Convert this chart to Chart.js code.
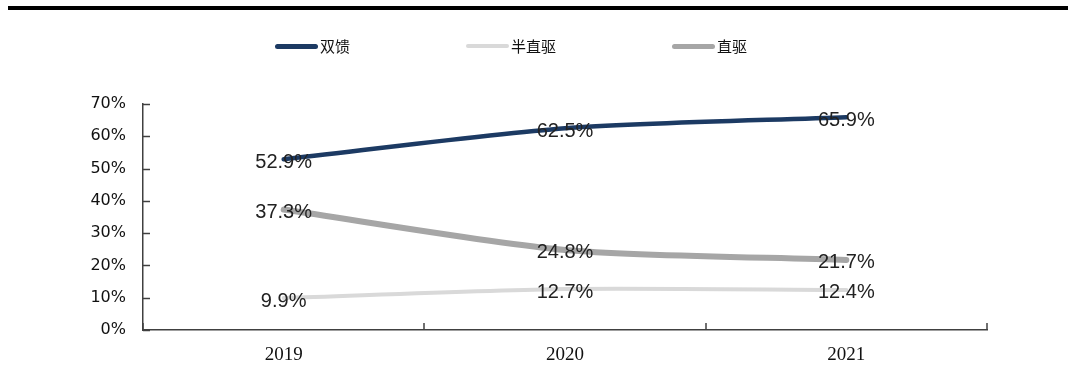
<!DOCTYPE html>
<html>
<head>
<meta charset="utf-8">
<script src="https://cdn.jsdelivr.net/npm/chart.js@4/dist/chart.umd.min.js"></script>
<style>
  html, body { margin: 0; padding: 0; background: #fff; }
  #wrap { position: relative; width: 1074px; height: 381px; }
  #topline { position: absolute; left: 8px; top: 6px; width: 1060px; height: 4px; background: #000; }
  #legend { position: absolute; top: 35px; left: 0; width: 1074px; height: 22px; }
  .item { position: absolute; top: 0; height: 22px; font: 15px "Noto Sans CJK SC", sans-serif; color: #111; line-height: 22px; }
  .item span.swatch { position: absolute; top: 9px; left: 0; width: 43px; border-radius: 3px; }
  .item span.txt { position: absolute; left: 45px; white-space: nowrap; }
  canvas { position: absolute; left: 0; top: 0; }
</style>
</head>
<body>
<div id="wrap">
  <canvas id="chart" width="1074" height="381"></canvas>
  <div id="topline"></div>
  <div id="legend"></div>
</div>
<script>
// categories / series
const years = ["2019", "2020", "2021"];
const seriesNames = ["双馈", "半直驱", "直驱"];
const doubleFed = [52.9, 62.5, 65.9];
const semiDirect = [9.9, 12.7, 12.4];
const directDrive = [37.3, 24.8, 21.7];
const yTicks = [0, 10, 20, 30, 40, 50, 60, 70];

const colors = ["#1c3a63", "#d9d9d9", "#a6a6a6"];
const widths = [4.5, 4, 6];
const legendX = [275, 466, 672];

var canvasElement = document.getElementById("chart");

// little inward tick marks + value labels
const extrasPlugin = {
  id: "extras",
  afterDatasetsDraw(chart) {
    const ctx = chart.ctx;
    const x = chart.scales.x, y = chart.scales.y;
    ctx.save();
    ctx.strokeStyle = "#404040";
    ctx.lineWidth = 1.5;
    y.ticks.forEach(function (t, i) {
      const py = Math.round(y.getPixelForTick(i)) + 0.5;
      ctx.beginPath();
      ctx.moveTo(x.left, py);
      ctx.lineTo(x.left + 7, py);
      ctx.stroke();
    });
    for (let i = 0; i <= years.length; i++) {
      const px = Math.round(x.getPixelForValue(i - 0.5));
      ctx.beginPath();
      ctx.moveTo(px, y.bottom);
      ctx.lineTo(px, y.bottom - 7);
      ctx.stroke();
    }
    ctx.font = "20px 'Liberation Sans', Arial, sans-serif";
    ctx.fillStyle = "#222";
    ctx.textAlign = "center";
    ctx.textBaseline = "middle";
    chart.data.datasets.forEach(function (ds, di) {
      chart.getDatasetMeta(di).data.forEach(function (pt, i) {
        ctx.fillText(ds.data[i].toFixed(1) + "%", pt.x, pt.y + 3);
      });
    });
    ctx.restore();
  }
};

var config = {
  type: "line",
  data: {
    labels: years,
    datasets: [doubleFed, semiDirect, directDrive].map(function (d, i) {
      return {
        label: seriesNames[i],
        data: d,
        borderColor: colors[i],
        backgroundColor: colors[i],
        borderWidth: widths[i],
        pointRadius: 0,
        tension: 0.25,
        borderCapStyle: "round",
        fill: false
      };
    }).reverse()
  },
  options: {
    responsive: false,
    animation: false,
    events: [],
    layout: { padding: { left: 43, right: 87, top: 104, bottom: 0 } },
    plugins: { legend: { display: false }, tooltip: { enabled: false } },
    scales: {
      x: {
        offset: true,
        grid: { display: false, drawTicks: false },
        border: { display: true, color: "#404040", width: 1.5 },
        ticks: { padding: 14, color: "#111", font: { family: "'Liberation Serif', 'Times New Roman', serif", size: 19 } },
        afterFit: function (s) { s.height = 51; }
      },
      y: {
        min: 0,
        max: 70,
        afterBuildTicks: function (s) { s.ticks = yTicks.map(function (v) { return { value: v }; }); },
        grid: { display: false, drawTicks: false },
        border: { display: true, color: "#404040", width: 1.5 },
        ticks: {
          padding: 17,
          color: "#111",
          font: { family: "'DejaVu Sans', sans-serif", size: 16 },
          callback: function (v) { return v + "%"; }
        },
        afterFit: function (s) { s.width = 100; }
      }
    }
  },
  plugins: [extrasPlugin]
};
var lineChart = new Chart(canvasElement, config);

// legend built from the same series
const legendEl = document.getElementById("legend");
seriesNames.forEach(function (name, i) {
  const item = document.createElement("div");
  item.className = "item";
  item.style.left = legendX[i] + "px";
  const sw = document.createElement("span");
  sw.className = "swatch";
  sw.style.background = colors[i];
  sw.style.height = (i === 1 ? 4 : 5) + "px";
  const tx = document.createElement("span");
  tx.className = "txt";
  tx.textContent = name;
  item.appendChild(sw);
  item.appendChild(tx);
  legendEl.appendChild(item);
});
</script>
</body>
</html>
